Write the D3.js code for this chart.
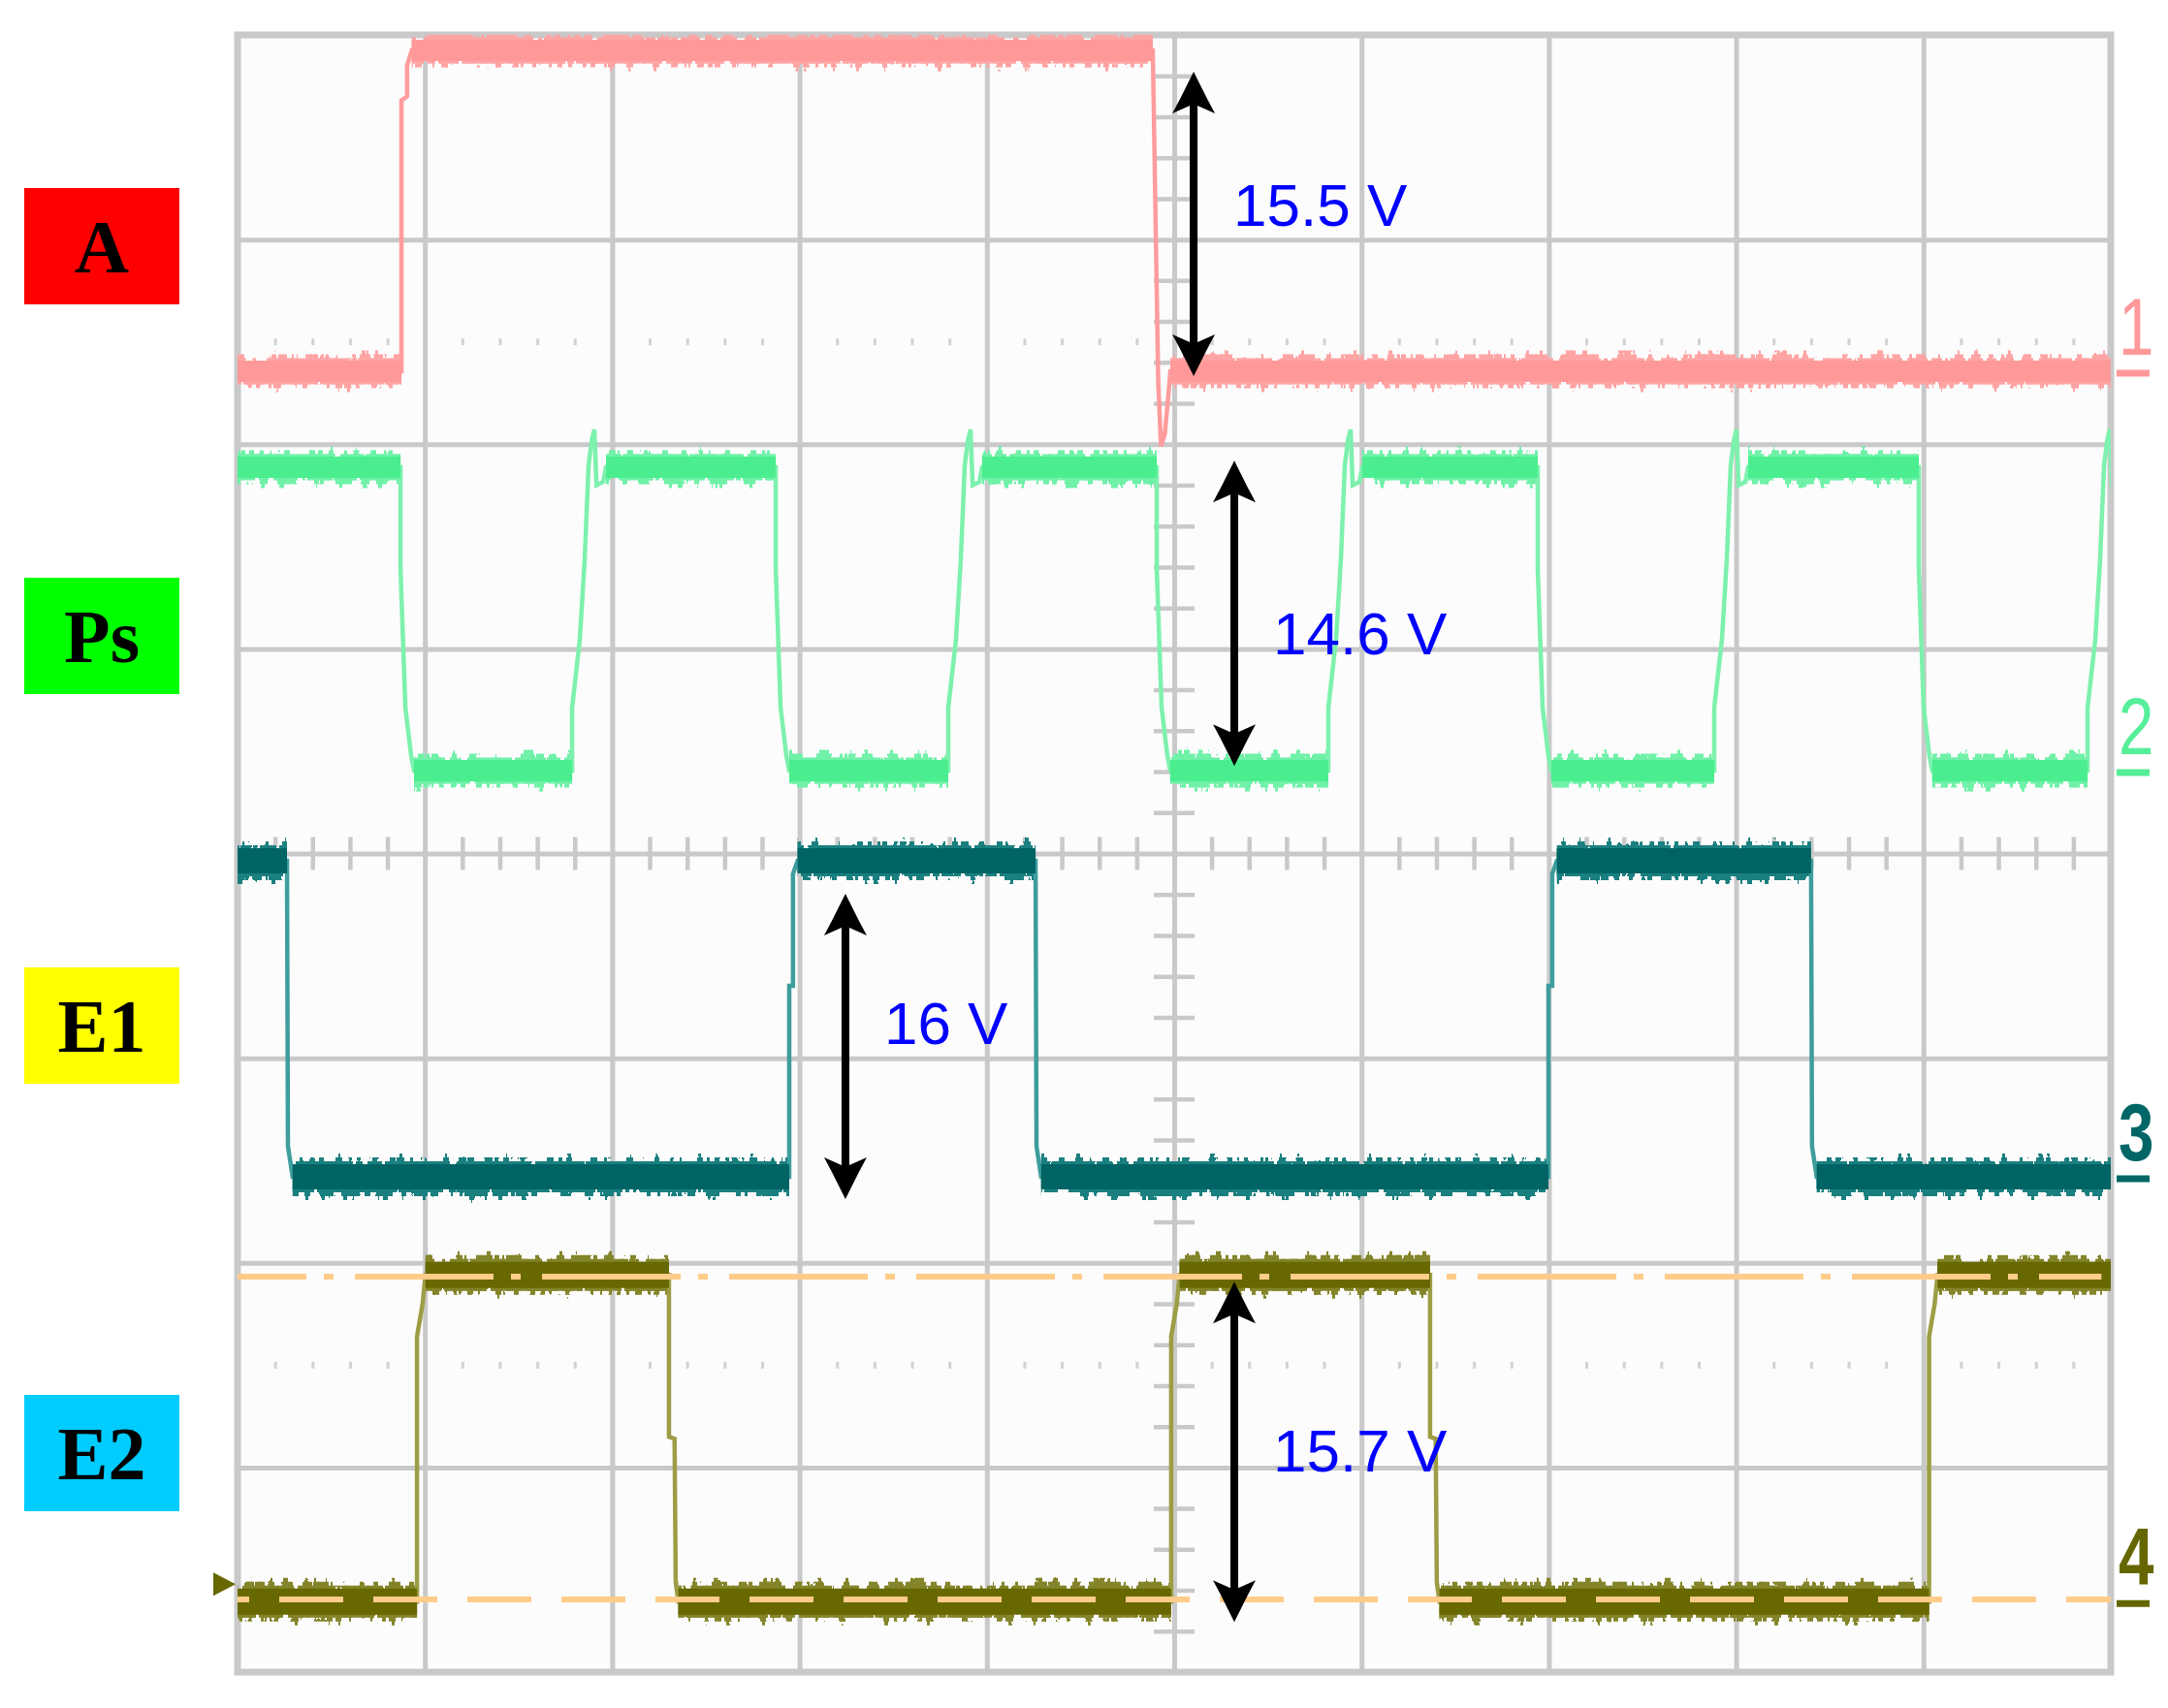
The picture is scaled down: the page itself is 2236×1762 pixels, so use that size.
<!DOCTYPE html>
<html>
<head>
<meta charset="utf-8">
<script src="https://cdn.jsdelivr.net/npm/d3@7/dist/d3.min.js"></script>
<style>
html,body{margin:0;padding:0;background:#ffffff;}
svg{display:block;}
</style>
</head>
<body>
<svg id="chart" width="2236" height="1762"></svg>
<script>
// ---------------- DATA (screen divisions: time 0..10, amplitude -4..4) ----------------
const gridX = d3.range(0, 11);
const gridY = d3.range(-4, 5);
const dottedRows = [2.5, -2.5];

const channelNames = ["1", "2", "3", "4"];
const lowLevels  = [2.356, 0.405, -1.58, -3.655];
const highLevels = [3.924, 1.887, -0.036, -2.059];

// Channel 1 (A) vertices [time, level]
const aTrace = [[0, 2.356], [0.875, 2.356], [0.875, 3.68], [0.905, 3.70], [0.905, 3.85], [0.93, 3.924],
  [4.886, 3.924], [4.89, 3.70], [4.915, 2.30], [4.93, 1.99], [4.95, 2.05], [4.975, 2.30],
  [4.98, 2.356], [10, 2.356]];

// Channel 2 (Ps)
const psFallTimes = [0.870, 2.873, 4.907, 6.941, 8.975];
const psRiseTimes = [1.786, 3.794, 5.823, 7.883, 9.876];
const psFallShape = [[0, 1.887], [0, 1.39], [0.026, 0.713], [0.057, 0.476], [0.072, 0.405]];
const psRiseShape = [[0, 0.405], [0, 0.712], [0.041, 1.044], [0.067, 1.436], [0.088, 1.897],
  [0.105, 2.02], [0.119, 2.072], [0.13, 1.80], [0.166, 1.816], [0.181, 1.887]];

// Channel 3 (E1)
const e1FallTimes = [0.264, 4.26, 8.40];
const e1RiseTimes = [2.945, 6.998];
const e1FallShape = [[0, -0.036], [0.005, -1.43], [0.03, -1.58]];
const e1RiseShape = [[0, -1.58], [0, -0.647], [0.02, -0.647], [0.02, -0.10], [0.045, -0.036]];

// Channel 4 (E2)
const e2RiseTimes = [0.958, 4.984, 9.03];
const e2FallTimes = [2.303, 6.366];
const e2RiseShape = [[0, -3.655], [0, -2.36], [0.03, -2.2], [0.045, -2.059]];
const e2FallShape = [[0, -2.059], [0, -2.85], [0.03, -2.86], [0.036, -3.56], [0.05, -3.655]];

// Cursor lines (channel 4)
const cursorLevels = [-2.068, -3.645];
const groundMarkerLevel = -3.57;

// Amplitude annotations
const arrowT      = [5.104, 5.321, 3.245, 5.321];
const arrowTop    = [3.82, 1.92, -0.197, -2.092];
const arrowBottom = [2.333, 0.428, -1.689, -3.755];
const arrowLabels = ["15.5 V", "14.6 V", "16 V", "15.7 V"];
const labelT      = [5.316, 5.528, 3.452, 5.528];
const labelV      = [3.067, 0.973, -0.931, -3.020];

// Signal name boxes
const signalNames  = ["A", "Ps", "E1", "E2"];
const signalColors = ["#ff0000", "#00ff00", "#ffff00", "#00ccff"];

// ---------------- STYLE ----------------
const W = 2236, H = 1762;
const coreColors   = ["#ff9999", "#4aee8e", "#006464", "#686800"];
const fringeColors = ["#ffa4a4", "#6ff1a8", "#1a7f7f", "#84842a"];
const edgeColors   = ["#ff9c9c", "#7df1ad", "#3e9d9d", "#9d9d45"];
const labelColorsR = ["#ff9999", "#55ee99", "#006666", "#666600"];
const coreWidth    = [22, 22, 26, 27];
const fringeWidth  = [27, 27, 32, 33];
const gridColor = "#c9c9c9";

const x = d3.scaleLinear().domain([0, 10]).range([245, 2177]);
const y = d3.scaleLinear().domain([4, -4]).range([36, 1725]);

const svg = d3.select("#chart");
svg.append("rect").attr("width", W).attr("height", H).attr("fill", "#ffffff");
const defs = svg.append("defs");
defs.append("clipPath").attr("id", "plotClip").append("rect")
  .attr("x", x(0)).attr("y", y(4)).attr("width", x(10) - x(0)).attr("height", y(-4) - y(4));

function makeJag(id, seed, scale) {
  const f = defs.append("filter").attr("id", id)
    .attr("filterUnits", "userSpaceOnUse").attr("x", 0).attr("y", 0)
    .attr("width", W).attr("height", H)
    .attr("color-interpolation-filters", "sRGB");
  f.append("feTurbulence").attr("type", "fractalNoise").attr("baseFrequency", "0.11 0.015")
    .attr("numOctaves", 2).attr("seed", seed).attr("result", "t");
  const ct = f.append("feComponentTransfer").attr("in", "t").attr("result", "m");
  ct.append("feFuncR").attr("type", "linear").attr("slope", 0).attr("intercept", 0.5);
  ct.append("feFuncG").attr("type", "discrete").attr("tableValues", "0.1 0.22 0.36 0.5 0.64 0.78 0.9");
  ct.append("feFuncA").attr("type", "linear").attr("slope", 0).attr("intercept", 1);
  f.append("feDisplacementMap").attr("in", "SourceGraphic").attr("in2", "m")
    .attr("scale", scale).attr("xChannelSelector", "R").attr("yChannelSelector", "G");
}
makeJag("jagA", 3, 28);
makeJag("jagB", 17, 28);

// plot background
svg.append("rect").attr("x", x(0)).attr("y", y(4))
  .attr("width", x(10) - x(0)).attr("height", y(-4) - y(4)).attr("fill", "#fcfcfc");

// ---------------- GRID ----------------
function styleAxis(g, color, width) {
  g.select(".domain").remove();
  g.selectAll("text").remove();
  g.selectAll("line").attr("stroke", color).attr("stroke-width", width);
}
const plotW = x(10) - x(0), plotH = y(-4) - y(4);
svg.append("g").attr("transform", `translate(0,${y(-4)})`)
  .call(d3.axisBottom(x).tickValues(gridX).tickSize(-plotH).tickFormat(""))
  .call(g => styleAxis(g, gridColor, 5));
svg.append("g").attr("transform", `translate(${x(0)},0)`)
  .call(d3.axisLeft(y).tickValues(gridY).tickSize(-plotW).tickFormat(""))
  .call(g => styleAxis(g, gridColor, 5));

const minorX = d3.range(1, 50).filter(i => i % 5 !== 0).map(i => i * 0.2);
const minorY = d3.range(-19, 20).filter(i => i % 5 !== 0).map(i => i * 0.2);
svg.append("g").attr("transform", `translate(0,${y(0) - 17})`)
  .call(d3.axisBottom(x).tickValues(minorX).tickSize(34).tickFormat(""))
  .call(g => styleAxis(g, gridColor, 4.5));
svg.append("g").attr("transform", `translate(${x(5) - 21},0)`)
  .call(d3.axisRight(y).tickValues(minorY).tickSize(42).tickFormat(""))
  .call(g => styleAxis(g, gridColor, 4.5));
dottedRows.forEach(r => {
  svg.append("g").attr("transform", `translate(0,${y(r) - 3.5})`)
    .call(d3.axisBottom(x).tickValues(minorX).tickSize(7).tickFormat(""))
    .call(g => styleAxis(g, "#d2d2d2", 3));
});
svg.append("rect").attr("x", x(0)).attr("y", y(4)).attr("width", plotW).attr("height", plotH)
  .attr("fill", "none").attr("stroke", gridColor).attr("stroke-width", 7);

// ---------------- TRACES ----------------
function buildTrace(startLevel, falls, fallShape, rises, riseShape) {
  const edges = falls.map(t => ({t, s: fallShape})).concat(rises.map(t => ({t, s: riseShape})))
    .sort((a, b) => a.t - b.t);
  const pts = [[0, startLevel]];
  edges.forEach(e => e.s.forEach(p => pts.push([e.t + p[0], p[1]])));
  pts.push([10.2, pts[pts.length - 1][1]]);
  return pts;
}
const traces = [
  aTrace,
  buildTrace(highLevels[1], psFallTimes, psFallShape, psRiseTimes, psRiseShape),
  buildTrace(highLevels[2], e1FallTimes, e1FallShape, e1RiseTimes, e1RiseShape),
  buildTrace(lowLevels[3], e2FallTimes, e2FallShape, e2RiseTimes, e2RiseShape)
];
function bandsOf(pts) {
  const out = [];
  for (let i = 0; i < pts.length - 1; i++) {
    if (pts[i][1] === pts[i + 1][1] && pts[i + 1][0] - pts[i][0] > 0.1) out.push([pts[i], pts[i + 1]]);
  }
  return out;
}
const line = d3.line().x(d => x(d[0])).y(d => y(d[1]));

const plotG = svg.append("g").attr("clip-path", "url(#plotClip)");
["jagA", "jagB"].forEach(fid => {
  const fg = plotG.append("g").attr("filter", `url(#${fid})`);
  traces.forEach((pts, ci) => {
    fg.selectAll(null).data(bandsOf(pts)).join("path")
      .attr("d", line).attr("fill", "none").attr("stroke", fringeColors[ci])
      .attr("stroke-width", fringeWidth[ci]).attr("stroke-linecap", "butt");
  });
});
traces.forEach((pts, ci) => {
  plotG.append("path").datum(pts).attr("d", line).attr("fill", "none")
    .attr("stroke", edgeColors[ci]).attr("stroke-width", 4.5).attr("stroke-linejoin", "miter");
  plotG.selectAll(null).data(bandsOf(pts)).join("path")
    .attr("d", line).attr("fill", "none").attr("stroke", coreColors[ci])
    .attr("stroke-width", coreWidth[ci]).attr("stroke-linecap", "butt");
});

// cursor lines
plotG.append("line").attr("x1", x(0)).attr("x2", x(9.95))
  .attr("y1", y(cursorLevels[0])).attr("y2", y(cursorLevels[0]))
  .attr("stroke", "#ffcc8a").attr("stroke-width", 6)
  .attr("stroke-dasharray", "143 18 10 22").attr("stroke-dashoffset", 72);
plotG.append("line").attr("x1", x(0)).attr("x2", x(10))
  .attr("y1", y(cursorLevels[1])).attr("y2", y(cursorLevels[1]))
  .attr("stroke", "#ffcc8a").attr("stroke-width", 6)
  .attr("stroke-dasharray", "66 31").attr("stroke-dashoffset", 54);

// ground marker of channel 4
svg.append("path")
  .attr("d", `M${x(0) - 25},${y(groundMarkerLevel) - 12} L${x(0) - 2},${y(groundMarkerLevel)} L${x(0) - 25},${y(groundMarkerLevel) + 12} Z`)
  .attr("fill", coreColors[3]);

// channel numbers with ground underline
channelNames.forEach((n, i) => {
  const ly = y(lowLevels[i]);
  svg.append("text").attr("transform", `translate(2185,${ly - 17}) scale(0.78,1)`)
    .attr("font-family", "Liberation Sans, Arial, sans-serif").attr("font-weight", i < 2 ? "normal" : "bold")
    .attr("font-size", 84).attr("fill", labelColorsR[i]).text(n);
  svg.append("line").attr("x1", 2183).attr("x2", 2217).attr("y1", ly + 2).attr("y2", ly + 2)
    .attr("stroke", labelColorsR[i]).attr("stroke-width", 7);
});

// ---------------- ANNOTATIONS ----------------
function head(cx, tip, d) {
  return `M${cx},${tip} L${cx + 14},${tip + d * 28} L${cx + 22},${tip + d * 43} L${cx + 4},${tip + d * 35} ` +
         `L${cx - 4},${tip + d * 35} L${cx - 22},${tip + d * 43} L${cx - 14},${tip + d * 28} Z`;
}
arrowT.forEach((t, i) => {
  const cx = x(t), yt = y(arrowTop[i]), yb = y(arrowBottom[i]);
  svg.append("line").attr("x1", cx).attr("x2", cx).attr("y1", yt + 30).attr("y2", yb - 30)
    .attr("stroke", "#000").attr("stroke-width", 8);
  svg.append("path").attr("d", head(cx, yt, 1)).attr("fill", "#000");
  svg.append("path").attr("d", head(cx, yb, -1)).attr("fill", "#000");
  svg.append("text").attr("x", x(labelT[i])).attr("y", y(labelV[i]))
    .attr("font-family", "Liberation Sans, Arial, sans-serif").attr("font-size", 62)
    .attr("fill", "#0000ff").text(arrowLabels[i]);
});

// signal name boxes
const boxTops = [194, 596, 998, 1439];
signalNames.forEach((n, i) => {
  svg.append("rect").attr("x", 25).attr("y", boxTops[i]).attr("width", 160).attr("height", 120)
    .attr("fill", signalColors[i]);
  svg.append("text").attr("x", 105).attr("y", boxTops[i] + 87).attr("text-anchor", "middle")
    .attr("font-family", "Liberation Serif, Times New Roman, serif")
    .attr("font-weight", "bold")
    .attr("font-size", 78).attr("fill", "#000").text(n);
});
</script>
</body>
</html>
